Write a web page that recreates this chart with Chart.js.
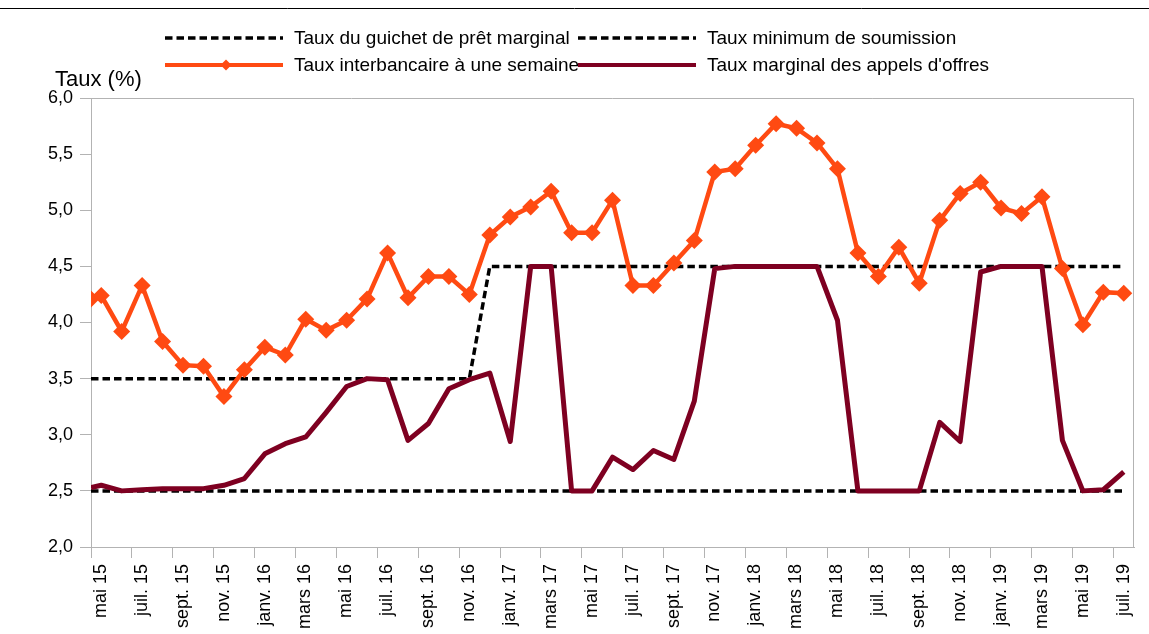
<!DOCTYPE html>
<html lang="fr">
<head>
<meta charset="utf-8">
<title>Taux</title>
<script src="https://cdn.jsdelivr.net/npm/chart.js@4/dist/chart.umd.min.js"></script>
<style>
  html, body { margin: 0; padding: 0; background: #fff; }
  #wrap { width: 1149px; height: 634px; }
</style>
</head>
<body>
<div id="wrap"><canvas id="taux" width="1149" height="634"></canvas></div>
<script>
// mois de mai 15 à juil. 19 ; le point 0 est le début de période (1er mai 2015)
const mois = [
  "mai 15", "juin 15", "juil. 15", "août 15", "sept. 15", "oct. 15", "nov. 15", "déc. 15",
  "janv. 16", "févr. 16", "mars 16", "avr. 16", "mai 16", "juin 16", "juil. 16", "août 16",
  "sept. 16", "oct. 16", "nov. 16", "déc. 16", "janv. 17", "févr. 17", "mars 17", "avr. 17",
  "mai 17", "juin 17", "juil. 17", "août 17", "sept. 17", "oct. 17", "nov. 17", "déc. 17",
  "janv. 18", "févr. 18", "mars 18", "avr. 18", "mai 18", "juin 18", "juil. 18", "août 18",
  "sept. 18", "oct. 18", "nov. 18", "déc. 18", "janv. 19", "févr. 19", "mars 19", "avr. 19",
  "mai 19", "juin 19", "juil. 19"
];
const tickLabels = mois.filter((m, i) => i % 2 === 0);

const guichet = [
  3.5, 3.5, 3.5, 3.5, 3.5, 3.5, 3.5, 3.5, 3.5, 3.5, 3.5, 3.5, 3.5, 3.5, 3.5, 3.5, 3.5, 3.5, 3.5, 3.5,
  4.5, 4.5, 4.5, 4.5, 4.5, 4.5, 4.5, 4.5, 4.5, 4.5, 4.5, 4.5, 4.5, 4.5, 4.5, 4.5,
  4.5, 4.5, 4.5, 4.5, 4.5, 4.5, 4.5, 4.5, 4.5, 4.5, 4.5, 4.5, 4.5, 4.5, 4.5, 4.5
];
const soumission = [
  2.5, 2.5, 2.5, 2.5, 2.5, 2.5, 2.5, 2.5, 2.5, 2.5, 2.5, 2.5, 2.5, 2.5, 2.5, 2.5, 2.5, 2.5, 2.5, 2.5,
  2.5, 2.5, 2.5, 2.5, 2.5, 2.5, 2.5, 2.5, 2.5, 2.5, 2.5, 2.5, 2.5, 2.5, 2.5, 2.5,
  2.5, 2.5, 2.5, 2.5, 2.5, 2.5, 2.5, 2.5, 2.5, 2.5, 2.5, 2.5, 2.5, 2.5, 2.5, 2.5
];
const interbancaire = [
  4.21, 4.24, 3.92, 4.33, 3.83, 3.62, 3.61, 3.34, 3.58, 3.78, 3.71, 4.03, 3.93,
  4.02, 4.21, 4.62, 4.22, 4.41, 4.41, 4.25, 4.78, 4.94, 5.03, 5.17, 4.80, 4.80,
  5.09, 4.33, 4.33, 4.53, 4.73, 5.34, 5.37, 5.58, 5.77, 5.73, 5.60, 5.37, 4.62,
  4.41, 4.67, 4.35, 4.91, 5.15, 5.25, 5.02, 4.97, 5.12, 4.48, 3.98, 4.27, 4.26
];
const marginal = [
  2.53, 2.55, 2.50, 2.51, 2.52, 2.52, 2.52, 2.55, 2.61, 2.83, 2.92, 2.98, 3.20,
  3.43, 3.50, 3.49, 2.95, 3.10, 3.41, 3.49, 3.55, 2.94, 4.50, 4.50, 2.50, 2.50,
  2.80, 2.69, 2.86, 2.78, 3.30, 4.48, 4.50, 4.50, 4.50, 4.50, 4.50, 4.02, 2.50,
  2.50, 2.50, 2.50, 3.11, 2.94, 4.45, 4.50, 4.50, 4.50, 2.95, 2.50, 2.51, 2.67
];

const ORANGE = "#ff4a12";
const BORDEAUX = "#7e0021";
const GRIS = "#b3b3b3";
const DASH = [7.5, 4];

// point 0 au début du mois, les autres au milieu de chaque mois
const pos = (i) => (i === 0 ? 0 : i - 0.5);
const serie = (vals) => vals.map((v, i) => ({ x: pos(i), y: v }));

Chart.defaults.font.family = "'Liberation Sans', Arial, sans-serif";
Chart.defaults.color = "#000";

const cadre = {
  id: "cadre",
  afterDraw(chart) {
    const { ctx, chartArea: a } = chart;
    ctx.save();
    ctx.strokeStyle = GRIS;
    ctx.lineWidth = 1;
    ctx.beginPath();
    ctx.moveTo(a.left, a.top + 0.5);
    ctx.lineTo(a.right - 0.5, a.top + 0.5);
    ctx.lineTo(a.right - 0.5, a.bottom);
    ctx.stroke();

    ctx.strokeStyle = "#000";
    ctx.beginPath();
    ctx.moveTo(0, 8.5);
    ctx.lineTo(chart.width, 8.5);
    ctx.stroke();

    ctx.fillStyle = "#000";
    ctx.font = "22px 'Liberation Sans', Arial, sans-serif";
    ctx.textBaseline = "alphabetic";
    ctx.fillText("Taux (%)", 55, 86);

    // légende sur deux colonnes
    const items = [
      { t: "Taux du guichet de prêt marginal", x: 165, y: 38, c: "#000", dash: true },
      { t: "Taux minimum de soumission", x: 578, y: 38, c: "#000", dash: true },
      { t: "Taux interbancaire à une semaine", x: 165, y: 65, c: ORANGE, mark: true },
      { t: "Taux marginal des appels d'offres", x: 578, y: 65, c: BORDEAUX }
    ];
    ctx.font = "19px 'Liberation Sans', Arial, sans-serif";
    ctx.textBaseline = "middle";
    items.forEach((it) => {
      ctx.beginPath();
      ctx.strokeStyle = it.c;
      ctx.lineWidth = it.dash ? 3.5 : 4;
      ctx.setLineDash(it.dash ? DASH : []);
      ctx.moveTo(it.x, it.y);
      ctx.lineTo(it.x + 118, it.y);
      ctx.stroke();
      ctx.setLineDash([]);
      if (it.mark) {
        const cx = it.x + 61, r = 5.5;
        ctx.fillStyle = it.c;
        ctx.beginPath();
        ctx.moveTo(cx, it.y - r);
        ctx.lineTo(cx + r, it.y);
        ctx.lineTo(cx, it.y + r);
        ctx.lineTo(cx - r, it.y);
        ctx.closePath();
        ctx.fill();
      }
      ctx.fillStyle = "#000";
      ctx.fillText(it.t, it.x + 129, it.y + 1);
    });
    ctx.restore();
  }
};

new Chart(document.getElementById("taux"), {
  type: "line",
  data: {
    datasets: [
      {
        label: "Taux interbancaire à une semaine",
        data: serie(interbancaire),
        borderColor: ORANGE,
        backgroundColor: ORANGE,
        borderWidth: 4.5,
        pointStyle: "rectRot",
        pointRadius: 8.5,
        pointBorderWidth: 0,
        tension: 0
      },
      {
        label: "Taux marginal des appels d'offres",
        data: serie(marginal),
        borderColor: BORDEAUX,
        borderWidth: 5,
        borderJoinStyle: "round",
        pointRadius: 0,
        tension: 0
      },
      {
        label: "Taux du guichet de prêt marginal",
        data: serie(guichet),
        borderColor: "#000",
        borderWidth: 3.5,
        borderDash: DASH,
        pointRadius: 0,
        tension: 0
      },
      {
        label: "Taux minimum de soumission",
        data: serie(soumission),
        borderColor: "#000",
        borderWidth: 3.5,
        borderDash: DASH,
        pointRadius: 0,
        tension: 0
      }
    ]
  },
  options: {
    responsive: false,
    animation: false,
    events: [],
    layout: { padding: { left: 0, top: 98, right: 15, bottom: 0 } },
    plugins: {
      legend: { display: false },
      tooltip: { enabled: false }
    },
    scales: {
      x: {
        type: "linear",
        min: 0,
        max: mois.length,
        afterBuildTicks: (s) => {
          s.ticks = tickLabels.map((_, i) => ({ value: i * 2 }));
        },
        afterFit: (s) => { s.height = 87; },
        grid: { drawOnChartArea: false, color: GRIS, tickLength: 11 },
        border: { color: GRIS, width: 1 },
        ticks: {
          autoSkip: false,
          minRotation: 90,
          maxRotation: 90,
          labelOffset: 10,
          padding: 6,
          font: { size: 18 },
          callback: (v) => tickLabels[v / 2]
        }
      },
      y: {
        min: 2,
        max: 6,
        afterFit: (s) => { s.width = 91; },
        grid: { drawOnChartArea: false, color: GRIS, tickLength: 11 },
        border: { color: GRIS, width: 1 },
        ticks: {
          stepSize: 0.5,
          padding: 7,
          font: { size: 18 },
          callback: (v) => v.toFixed(1).replace(".", ",")
        }
      }
    }
  },
  plugins: [cadre]
});
</script>
</body>
</html>
